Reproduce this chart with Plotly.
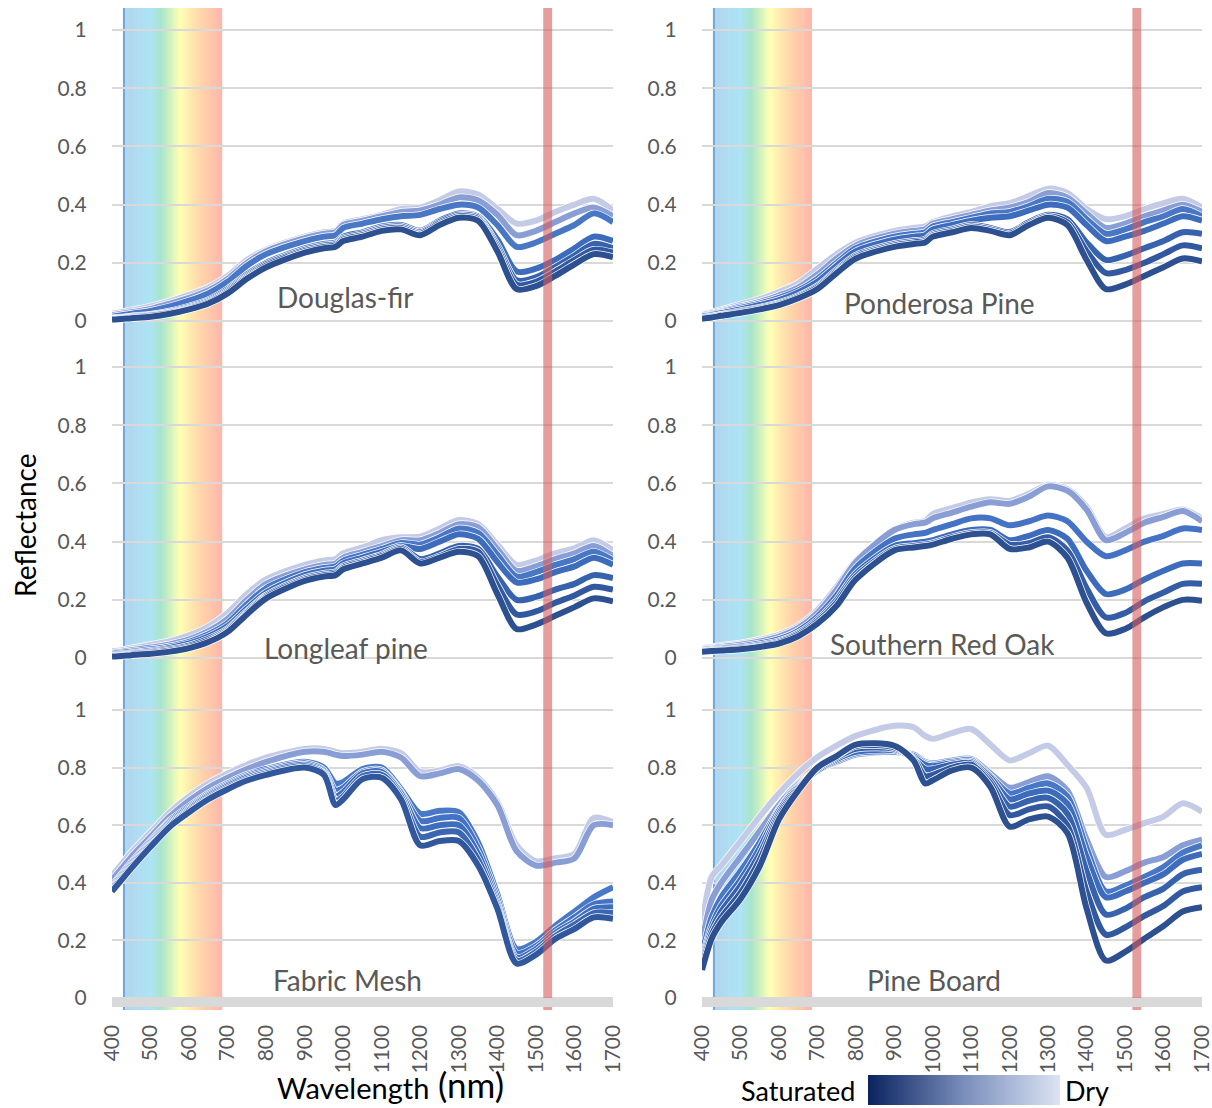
import plotly.graph_objects as go
from plotly.subplots import make_subplots

# ---------------- data ----------------
WL = [400, 425, 450, 500, 550, 600, 650, 700, 750, 800, 900, 950, 980, 1000, 1050,
      1100, 1150, 1200, 1250, 1300, 1350, 1400, 1450, 1500, 1550, 1600, 1650, 1700]

# each panel: curves ordered saturated (index 0) -> dry (last)
douglas_fir = [
    [.005, .007, .01, .015, .025, .04, .06, .095, .145, .185, .235, .25, .255, .275, .29, .31, .315, .295, .33, .355, .345, .24, .11, .12, .155, .195, .23, .22],
    [.007, .009, .012, .018, .028, .043, .064, .10, .15, .19, .24, .255, .26, .28, .295, .315, .32, .30, .335, .36, .35, .25, .125, .135, .17, .21, .245, .235],
    [.008, .01, .014, .02, .03, .046, .068, .105, .155, .195, .245, .26, .265, .285, .30, .32, .325, .305, .34, .365, .355, .26, .14, .15, .185, .225, .265, .25],
    [.01, .012, .016, .022, .033, .05, .072, .11, .16, .20, .25, .265, .27, .29, .305, .325, .33, .31, .345, .37, .36, .28, .17, .18, .21, .25, .29, .275],
    [.015, .02, .025, .035, .05, .07, .095, .135, .19, .23, .275, .29, .295, .32, .335, .35, .36, .365, .385, .40, .39, .33, .255, .27, .30, .33, .37, .34],
    [.02, .025, .03, .042, .06, .08, .105, .145, .20, .24, .285, .30, .305, .33, .345, .36, .375, .38, .40, .425, .415, .365, .295, .31, .34, .37, .39, .36],
    [.025, .03, .037, .05, .068, .09, .115, .155, .21, .245, .29, .305, .31, .335, .35, .365, .385, .39, .415, .445, .435, .385, .335, .345, .375, .40, .42, .38],
]
ponderosa_pine = [
    [.008, .012, .018, .028, .04, .055, .078, .11, .165, .215, .255, .265, .27, .29, .305, .32, .31, .295, .33, .355, .33, .21, .11, .125, .155, .185, .215, .205],
    [.01, .014, .02, .031, .043, .058, .082, .115, .17, .22, .26, .27, .275, .295, .31, .325, .315, .30, .335, .36, .34, .24, .165, .175, .20, .23, .26, .25],
    [.012, .016, .022, .034, .046, .062, .086, .12, .175, .225, .265, .275, .28, .30, .315, .33, .32, .305, .34, .365, .35, .27, .21, .225, .25, .275, .305, .30],
    [.016, .02, .027, .04, .055, .072, .098, .135, .19, .24, .28, .29, .295, .315, .33, .345, .355, .36, .38, .40, .39, .33, .275, .29, .31, .335, .36, .345],
    [.018, .023, .03, .045, .06, .08, .105, .145, .20, .25, .29, .30, .305, .325, .34, .355, .37, .375, .395, .42, .41, .35, .30, .315, .34, .36, .385, .36],
    [.02, .026, .033, .05, .066, .088, .115, .16, .215, .26, .30, .31, .315, .335, .35, .365, .38, .39, .41, .44, .425, .37, .32, .335, .36, .38, .40, .375],
    [.023, .03, .038, .057, .075, .10, .13, .18, .23, .27, .31, .32, .325, .34, .36, .375, .395, .405, .43, .455, .44, .385, .35, .36, .385, .405, .42, .39],
]
longleaf_pine = [
    [.005, .007, .01, .015, .022, .034, .055, .09, .15, .205, .265, .28, .285, .305, .325, .345, .37, .325, .345, .365, .35, .22, .10, .115, .145, .175, .205, .195],
    [.007, .009, .012, .018, .026, .038, .06, .095, .155, .21, .27, .285, .29, .31, .33, .35, .375, .33, .35, .375, .365, .25, .15, .16, .19, .215, .245, .235],
    [.009, .011, .015, .021, .03, .043, .066, .10, .16, .215, .275, .29, .295, .315, .335, .355, .38, .34, .36, .385, .375, .28, .20, .21, .235, .255, .285, .275],
    [.012, .014, .018, .025, .035, .05, .074, .11, .17, .225, .285, .30, .305, .325, .345, .365, .385, .375, .40, .425, .41, .33, .26, .27, .295, .315, .345, .32],
    [.015, .018, .022, .03, .04, .056, .082, .12, .185, .24, .295, .31, .315, .335, .355, .375, .395, .39, .415, .445, .43, .355, .28, .295, .32, .34, .365, .335],
    [.018, .022, .027, .036, .047, .064, .092, .135, .20, .255, .305, .32, .325, .345, .365, .385, .405, .405, .43, .46, .45, .375, .30, .315, .34, .36, .385, .35],
    [.023, .027, .033, .045, .058, .078, .108, .155, .22, .27, .32, .335, .34, .36, .38, .405, .415, .417, .445, .474, .46, .39, .32, .335, .36, .377, .405, .37],
]
southern_red_oak = [
    [.022, .024, .026, .03, .038, .05, .075, .118, .18, .27, .37, .38, .385, .39, .41, .425, .425, .375, .38, .40, .345, .19, .085, .10, .14, .175, .20, .197],
    [.024, .026, .028, .033, .041, .054, .08, .125, .19, .28, .375, .385, .39, .395, .415, .43, .43, .39, .395, .415, .37, .24, .14, .155, .195, .225, .255, .255],
    [.026, .028, .031, .036, .045, .058, .085, .132, .20, .29, .385, .395, .40, .405, .425, .44, .44, .405, .42, .44, .41, .30, .22, .235, .27, .30, .325, .325],
    [.028, .031, .034, .04, .05, .065, .093, .142, .215, .31, .41, .425, .43, .44, .46, .48, .48, .456, .47, .49, .47, .40, .35, .37, .40, .42, .445, .44],
    [.031, .034, .038, .046, .057, .074, .103, .155, .235, .33, .44, .46, .465, .48, .50, .52, .535, .53, .555, .59, .575, .51, .405, .43, .465, .485, .505, .47],
    [.034, .037, .042, .05, .063, .08, .11, .165, .245, .335, .44, .465, .47, .495, .515, .535, .546, .54, .565, .595, .58, .52, .415, .445, .48, .495, .51, .48],
]
fabric_mesh = [
    [.37, .41, .45, .525, .595, .645, .69, .725, .755, .775, .80, .775, .67, .69, .76, .765, .69, .53, .545, .545, .46, .31, .12, .15, .205, .24, .28, .275],
    [.375, .415, .455, .53, .60, .65, .695, .73, .76, .78, .805, .78, .685, .70, .77, .775, .70, .56, .575, .575, .48, .32, .13, .16, .215, .255, .295, .295],
    [.38, .42, .46, .535, .605, .655, .70, .735, .765, .785, .81, .785, .70, .715, .78, .785, .71, .59, .60, .60, .50, .33, .14, .17, .225, .265, .31, .315],
    [.385, .425, .465, .54, .61, .66, .705, .74, .77, .79, .815, .79, .72, .73, .785, .79, .715, .615, .625, .625, .52, .345, .155, .18, .235, .28, .325, .335],
    [.39, .43, .47, .545, .615, .665, .71, .745, .775, .795, .82, .80, .745, .75, .795, .80, .725, .64, .65, .645, .54, .36, .17, .195, .25, .30, .35, .385],
    [.41, .45, .49, .56, .63, .685, .73, .765, .795, .82, .855, .855, .845, .84, .845, .855, .835, .77, .78, .795, .755, .67, .51, .46, .47, .485, .60, .60],
    [.425, .465, .505, .575, .645, .70, .745, .78, .81, .835, .865, .865, .855, .85, .855, .865, .85, .785, .79, .805, .765, .68, .53, .475, .485, .50, .625, .61],
]
pine_board = [
    [.097, .206, .263, .344, .458, .62, .72, .80, .84, .88, .876, .825, .745, .756, .79, .80, .733, .595, .62, .63, .573, .31, .13, .16, .206, .25, .30, .315],
    [.11, .22, .28, .365, .48, .63, .725, .80, .84, .875, .87, .83, .77, .775, .80, .81, .745, .635, .655, .665, .60, .37, .22, .245, .285, .32, .37, .385],
    [.12, .235, .30, .39, .50, .64, .73, .795, .835, .865, .865, .83, .795, .795, .81, .815, .755, .665, .685, .695, .64, .44, .29, .31, .35, .38, .43, .445],
    [.13, .25, .32, .41, .52, .65, .735, .79, .83, .855, .86, .835, .81, .805, .815, .82, .765, .69, .71, .72, .675, .49, .35, .37, .40, .43, .48, .50],
    [.15, .28, .35, .44, .54, .655, .74, .79, .825, .85, .855, .84, .815, .81, .82, .825, .77, .71, .73, .745, .70, .52, .37, .39, .42, .455, .505, .53],
    [.19, .34, .40, .49, .58, .67, .745, .79, .82, .845, .855, .845, .82, .815, .825, .83, .78, .73, .75, .77, .72, .55, .42, .44, .47, .49, .53, .55],
    [.25, .42, .46, .544, .63, .71, .78, .836, .876, .91, .945, .94, .91, .90, .92, .934, .88, .825, .85, .876, .81, .73, .567, .584, .607, .63, .676, .647],
]

PANELS = [
    ("Douglas-fir", douglas_fir),
    ("Ponderosa Pine", ponderosa_pine),
    ("Longleaf pine", longleaf_pine),
    ("Southern Red Oak", southern_red_oak),
    ("Fabric Mesh", fabric_mesh),
    ("Pine Board", pine_board),
]
for _, curves in PANELS:
    for c in curves:
        assert len(c) == len(WL)

X_TICKS = list(range(400, 1701, 100))
Y_TICKS = [0, 0.2, 0.4, 0.6, 0.8, 1]
Y_TICKTEXT = ["0", "0.2", "0.4", "0.6", "0.8", "1"]

VIS_BAND = (431, 686)
SWIR_BAND = (1519, 1542)

# ---------------- styling ----------------
W, H = 1212, 1108
PAL7 = ['#2D5090', '#3259A0', '#3763AE', '#3E6CBC', '#4877C6', '#8A9ED6', '#C4CBE6']
PAL6 = ['#2D5090', '#345DA6', '#3E6CBC', '#4472C4', '#8A9ED6', '#C4CBE6']
PAL_FABRIC = ['#31589C', '#3A66B4', '#3F6DBE', '#4472C4', '#4A78C8', '#8A9ED6', '#C4CBE6']
PALETTES = [PAL7, PAL7, PAL7, PAL6, PAL_FABRIC, PAL7]
FONT = "Lato"
GRAY = "#595959"

def px_x(p):
    return p / W

def px_y(p):
    return 1 - p / H

col_dom = [[px_x(112), px_x(613)], [px_x(702), px_x(1202)]]
row_dom = [[px_y(335.6), px_y(8.2)], [px_y(672.6), px_y(345.2)], [px_y(1012.4), px_y(688.4)]]

fig = make_subplots(rows=3, cols=2)

for i, (name, curves) in enumerate(PANELS):
    r, c = i // 2 + 1, i % 2 + 1
    pal = PALETTES[i]
    # draw dry first so saturated sits on top
    for k in reversed(range(len(curves))):
        fig.add_trace(go.Scatter(x=WL, y=curves[k], mode="lines",
                                 line=dict(color="white", width=7.4, shape="spline", smoothing=0.8),
                                 hoverinfo="skip", showlegend=False), row=r, col=c)
        fig.add_trace(go.Scatter(x=WL, y=curves[k], mode="lines",
                                 line=dict(color=pal[k], width=6, shape="spline", smoothing=0.8),
                                 showlegend=False, name=name), row=r, col=c)

for i in range(6):
    r, c = i // 2, i % 2
    ax = "" if i == 0 else str(i + 1)
    fig.layout["xaxis" + ax].update(
        domain=col_dom[c], range=[400, 1700], tickvals=X_TICKS, showgrid=False,
        zeroline=False, showline=False, showticklabels=(r == 2), tickangle=-90,
        ticks="outside", ticklen=3, tickcolor="rgba(0,0,0,0)", automargin=False,
        ticklabeloverflow="allow",
        tickfont=dict(family=FONT, size=21, color=GRAY))
    fig.layout["yaxis" + ax].update(
        domain=row_dom[r], range=[-0.05, 1.075], tickvals=Y_TICKS, ticktext=Y_TICKTEXT,
        showgrid=True, gridcolor="#D9D9D9", gridwidth=2, zeroline=False, showline=False,
        ticks="outside", ticklen=20, tickcolor="rgba(0,0,0,0)", automargin=False,
        tickfont=dict(family=FONT, size=21, color=GRAY))

# ---------------- bands ----------------
def hex2rgb(h):
    h = h.lstrip('#')
    return tuple(int(h[j:j + 2], 16) for j in (0, 2, 4))

def interp(stops, t):
    for (t0, c0), (t1, c1) in zip(stops, stops[1:]):
        if t <= t1:
            f = 0 if t1 == t0 else (t - t0) / (t1 - t0)
            a, b = hex2rgb(c0), hex2rgb(c1)
            return "rgb(%d,%d,%d)" % tuple(round(a[j] + (b[j] - a[j]) * f) for j in range(3))
    return stops[-1][1]

RAINBOW = [(0.0, '#B1D4EE'), (0.13, '#B0DCF2'), (0.27, '#ADE3F5'), (0.385, '#A9E5C9'),
           (0.57, '#FFFFB4'), (0.77, '#FFD7AA'), (1.0, '#FFB5AB')]
shapes = []
band_y0, band_y1 = px_y(1010), px_y(8)
N = 90
for xr in ("x", "x2"):
    lo, hi = VIS_BAND
    step = (hi - lo) / N
    for n in range(N):
        t = (n + 0.5) / N
        shapes.append(dict(type="rect", xref=xr, yref="paper", layer="below",
                           x0=lo + n * step, x1=min(hi, lo + (n + 1.6) * step),
                           y0=band_y0, y1=band_y1, line=dict(width=0),
                           fillcolor=interp(RAINBOW, t)))
    shapes.append(dict(type="line", xref=xr, yref="paper", layer="below",
                       x0=lo, x1=lo, y0=band_y0, y1=band_y1,
                       line=dict(color="#6FA8DC", width=2)))
for xr in ("x", "x2"):
    shapes.append(dict(type="rect", xref=xr, yref="paper", layer="above",
                       x0=SWIR_BAND[0], x1=SWIR_BAND[1], y0=band_y0, y1=band_y1,
                       line=dict(width=0), fillcolor="rgba(212,92,92,0.6)"))
# thick grey axis line at the bottom row
for xr, yr in (("x5", "y5"), ("x6", "y6")):
    shapes.append(dict(type="line", xref=xr, yref=yr, layer="above",
                       x0=400, x1=1700, y0=-0.016, y1=-0.016,
                       line=dict(color="#D9D9D9", width=9)))

# legend gradient
LEG = [(0.0, '#0B2360'), (0.5, '#7A8EBB'), (1.0, '#DCE4F4')]
lx0, lx1 = 868, 1060
M = 80
for n in range(M):
    t = (n + 0.5) / M
    a = lx0 + (lx1 - lx0) * n / M
    b = lx0 + (lx1 - lx0) * min(1, (n + 1.6) / M)
    shapes.append(dict(type="rect", xref="paper", yref="paper", layer="above",
                       x0=px_x(a), x1=px_x(min(b, lx1)), y0=px_y(1105), y1=px_y(1075),
                       line=dict(width=0), fillcolor=interp(LEG, t)))

# ---------------- annotations ----------------
ann = []
TITLE_POS = [(345, 297), (940, 303), (346, 648), (942, 644), (347, 980), (934, 980)]
for (name, _), (tx, ty) in zip(PANELS, TITLE_POS):
    ann.append(dict(text=name, x=px_x(tx), y=px_y(ty), xref="paper", yref="paper",
                    showarrow=False, xanchor="center", yanchor="middle",
                    font=dict(family=FONT, size=28, color=GRAY)))
ann.append(dict(text="Reflectance", x=px_x(25), y=px_y(526), xref="paper", yref="paper",
                showarrow=False, textangle=-90, xanchor="center", yanchor="middle",
                font=dict(family=FONT, size=28, color="black")))
ann.append(dict(text="Wavelength", x=px_x(431), y=px_y(1107), xref="paper", yref="paper",
                showarrow=False, xanchor="right", yanchor="bottom",
                font=dict(family=FONT, size=29, color="black")))
ann.append(dict(text="(nm)", x=px_x(436), y=px_y(1107), xref="paper", yref="paper",
                showarrow=False, xanchor="left", yanchor="bottom",
                font=dict(family=FONT, size=35, color="black")))
ann.append(dict(text="Saturated", x=px_x(857), y=px_y(1090), xref="paper", yref="paper",
                showarrow=False, xanchor="right", yanchor="middle",
                font=dict(family=FONT, size=27, color="black")))
ann.append(dict(text="Dry", x=px_x(1063), y=px_y(1090), xref="paper", yref="paper",
                showarrow=False, xanchor="left", yanchor="middle",
                font=dict(family=FONT, size=27, color="black")))

fig.update_layout(width=W, height=H, margin=dict(l=0, r=0, t=0, b=0),
                  paper_bgcolor="white", plot_bgcolor="white",
                  shapes=shapes, annotations=ann, showlegend=False,
                  font=dict(family=FONT))

fig.write_html("out.html")
